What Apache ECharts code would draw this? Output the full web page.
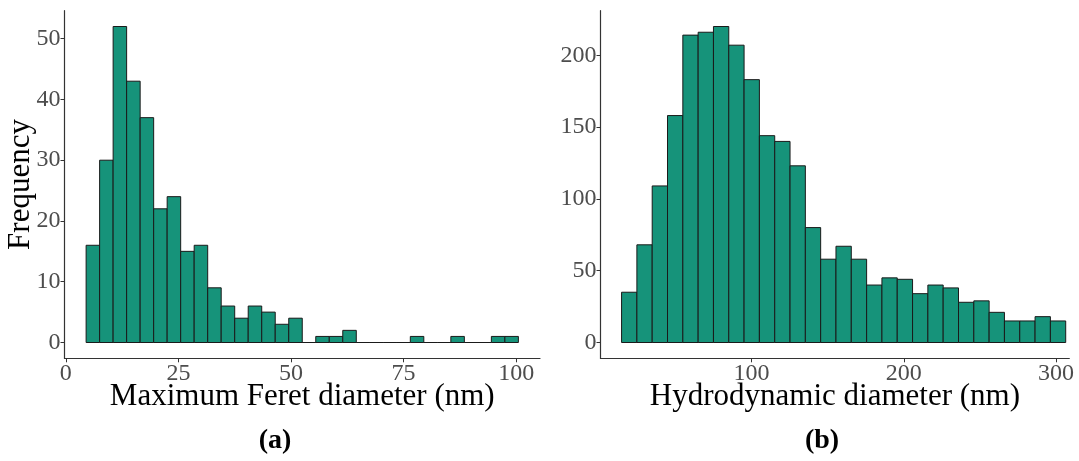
<!DOCTYPE html>
<html>
<head>
<meta charset="utf-8">
<script src="https://cdn.jsdelivr.net/npm/echarts@6/dist/echarts.min.js"></script>
<style>
  html, body { margin: 0; padding: 0; background: #fff; }
  #chart { width: 1079px; height: 461px; }
</style>
</head>
<body>
<div id="chart"></div>
<script>
// (a) maximum Feret diameter histogram, bins of 3 nm from 4.5 nm
const feretBinStart = 4.5;
const feretBinWidth = 3;
const feretCounts = [16, 30, 52, 43, 37, 22, 24, 15, 16, 9, 6, 4, 6, 5, 3, 4,
                     0, 1, 1, 2, 0, 0, 0, 0, 1, 0, 0, 1, 0, 0, 1, 1];
const feretTicks = [0, 25, 50, 75, 100];
const feretFreqTicks = [0, 10, 20, 30, 40, 50];

// (b) hydrodynamic diameter histogram, bins of ~10 nm
const hydroBinStart = 14.6;
const hydroBinWidth = 10.06;
const hydroCounts = [35, 68, 109, 158, 214, 216, 220, 207, 183, 144, 140, 123, 80, 58, 67,
                     58, 40, 45, 44, 34, 40, 38, 28, 29, 21, 15, 15, 18, 15];
const hydroTicks = [100, 200, 300];
const hydroFreqTicks = [0, 50, 100, 150, 200];

const FILL = '#16937a';
const SERIF = '"Liberation Serif", "DejaVu Serif", serif';

function toBins(start, width, counts) {
  return counts.map((c, i) => [start + i * width, start + (i + 1) * width, c]);
}

function renderBin(params, api) {
  const top = api.coord([api.value(0), api.value(2)]);
  const base = api.coord([api.value(1), 0]);
  return {
    type: 'rect',
    shape: { x: top[0], y: top[1], width: base[0] - top[0], height: base[1] - top[1] },
    style: { fill: FILL, stroke: '#1a1a1a', lineWidth: 1 }
  };
}

function xAxis(idx, min, max, ticks, name) {
  return {
    type: 'value', gridIndex: idx, min: min, max: max,
    name: name, nameLocation: 'middle', nameGap: 23, nameMoveOverlap: false,
    nameTextStyle: { fontFamily: SERIF, fontSize: 31, color: '#000' },
    axisLine: { onZero: false, lineStyle: { color: '#333', width: 1.2 } },
    axisTick: { customValues: ticks, length: 4, lineStyle: { color: '#333' } },
    axisLabel: { customValues: ticks, margin: 3, fontFamily: SERIF, fontSize: 24, color: '#4d4d4d' },
    splitLine: { show: false }
  };
}

function yAxis(idx, min, max, ticks, name) {
  return {
    type: 'value', gridIndex: idx, min: min, max: max,
    name: name, nameLocation: 'middle', nameGap: 28, nameMoveOverlap: false,
    nameTextStyle: { fontFamily: SERIF, fontSize: 31, color: '#000' },
    axisLine: { show: true, onZero: false, lineStyle: { color: '#333', width: 1.2 } },
    axisTick: { show: true, customValues: ticks, length: 4, lineStyle: { color: '#333' } },
    axisLabel: { customValues: ticks, margin: 4, fontFamily: SERIF, fontSize: 24, color: '#4d4d4d' },
    splitLine: { show: false }
  };
}

const chart = echarts.init(document.getElementById('chart'));
chart.setOption({
  animation: false,
  backgroundColor: '#fff',
  grid: [
    { left: 64.5, top: 10.7, width: 475.5, height: 347.6 },
    { left: 600.5, top: 10.7, width: 468.8, height: 347.6 }
  ],
  xAxis: [
    xAxis(0, -0.3, 105.3, feretTicks, 'Maximum Feret diameter (nm)'),
    xAxis(1, 0.76, 308.7, hydroTicks, 'Hydrodynamic diameter (nm)')
  ],
  yAxis: [
    yAxis(0, -2.6, 54.6, feretFreqTicks, 'Frequency'),
    yAxis(1, -11, 231, hydroFreqTicks, '')
  ],
  series: [
    {
      type: 'custom', xAxisIndex: 0, yAxisIndex: 0,
      renderItem: renderBin, encode: { x: [0, 1], y: 2 },
      data: toBins(feretBinStart, feretBinWidth, feretCounts)
    },
    {
      type: 'custom', xAxisIndex: 1, yAxisIndex: 1,
      renderItem: renderBin, encode: { x: [0, 1], y: 2 },
      data: toBins(hydroBinStart, hydroBinWidth, hydroCounts)
    }
  ],
  graphic: [
    { type: 'text', x: 275, y: 441, style: { text: '(a)', font: 'bold 28px ' + SERIF, fill: '#000', align: 'center', verticalAlign: 'middle' } },
    { type: 'text', x: 822, y: 441, style: { text: '(b)', font: 'bold 28px ' + SERIF, fill: '#000', align: 'center', verticalAlign: 'middle' } }
  ]
});
</script>
</body>
</html>
